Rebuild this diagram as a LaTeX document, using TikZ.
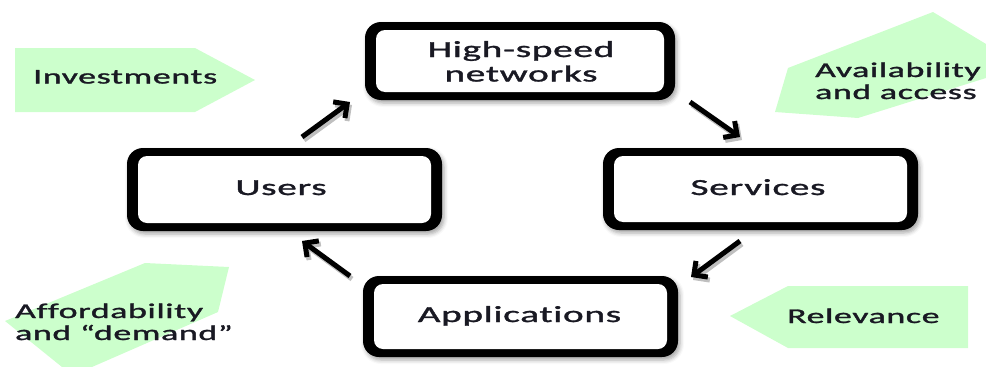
\documentclass[tikz,border=0pt]{standalone}
\usepackage{fontspec}
\setmainfont{Carlito}[LetterSpace=2, FakeBold=1.2, Ligatures={NoCommon}]
\usetikzlibrary{arrows.meta,shadows.blur,calc}
\pgfdeclarelayer{bg}
\pgfsetlayers{bg,main}
\definecolor{mint}{RGB}{204,255,204}
\definecolor{ink}{RGB}{25,25,35}
\newcommand{\wide}[1]{\scalebox{1.7}[1]{#1}}
\tikzset{
  boxshape/.style={rectangle, inner sep=0pt, outer sep=0pt},
  boxtext/.style={inner sep=0pt, anchor=base, text=ink, font=\fontsize{23}{24.5}\selectfont},
  greentext/.style={inner sep=0pt, anchor=base west, text=ink, font=\fontsize{21}{22}\selectfont},
  greenshape/.style={fill=mint, draw=none},
  flowarrow/.style={line width=5pt, black, -{Straight Barb[length=10pt,width=20pt]},
    preaction={draw=black!25, line width=5pt, transform canvas={shift={(2pt,-3pt)}}}},
}
\begin{document}
\begin{tikzpicture}[x=1pt,y=-1pt]
\path[use as bounding box] (0,0) rectangle (986,367);

% green labels (shapes)
\fill[greenshape] (15,48) -- (195,48) -- (255,80) -- (195,112) -- (15,112) -- cycle;
\fill[greenshape] (775,112) -- (788,68) -- (933,12) -- (986,44) -- (986,78) -- (858,118) -- cycle;
\fill[greenshape] (5,321) -- (145,263) -- (229,267) -- (218,312) -- (92,367) -- (62,367) -- cycle;
\fill[greenshape] (730,316) -- (788,286) -- (968,286) -- (968,348) -- (788,348) -- cycle;

% boxes
\node[boxshape, minimum width=310pt, minimum height=78pt] (hs) at (520,61) {};
\node[boxshape, minimum width=315pt, minimum height=83pt] (users) at (284.5,189.5) {};
\node[boxshape, minimum width=315pt, minimum height=82pt] (serv) at (760.5,189) {};
\node[boxshape, minimum width=315pt, minimum height=81pt] (apps) at (520.5,316.5) {};

\begin{pgfonlayer}{bg}
\foreach \n in {hs,users,serv,apps}{
  \fill[black, rounded corners=16pt,
        blur shadow={shadow xshift=2pt, shadow yshift=-3pt, shadow blur radius=4pt, shadow opacity=35}]
       (\n.south west) rectangle (\n.north east);
  \fill[white, rounded corners=9pt] ($(\n.south west)+(11,-8)$) rectangle ($(\n.north east)+(-11,8)$);
}
\end{pgfonlayer}

% box texts
\node[boxtext] (ths) at (521,57) {\wide{\begin{tabular}[t]{@{}c@{}}High-speed\\networks\end{tabular}}};
\node[boxtext] (tusers) at (281,195) {\wide{Users}};
\node[boxtext] (tserv) at (758,195) {\wide{Services}};
\node[boxtext] (tapps) at (519.5,322) {\wide{Applications}};

% green texts
\node[greentext] (tinv) at (33,83.5) {\wide{Investments}};
\node[greentext] (trel) at (787,323) {\wide{Relevance}};
\node[greentext] (tavail) at (815,77) {\wide{\begin{tabular}[t]{@{}l@{}}Availability\\and access\end{tabular}}};
\node[greentext] (taff) at (15,318) {\wide{\begin{tabular}[t]{@{}l@{}}Affordability\\and “demand”\end{tabular}}};

% cycle arrows
\draw[flowarrow] ($(users.north)+(17.5,-11)$) -- ($(hs.south west)+(-15,2)$);
\draw[flowarrow] ($(hs.south east)+(15,2)$) -- ($(serv.north)+(-20.5,-11)$);
\draw[flowarrow] ($(serv.south)+(-20.5,11)$) -- ($(apps.north east)+(13,1)$);
\draw[flowarrow] ($(apps.north west)+(-13,0)$) -- ($(users.south)+(17.5,10)$);
\end{tikzpicture}
\end{document}
